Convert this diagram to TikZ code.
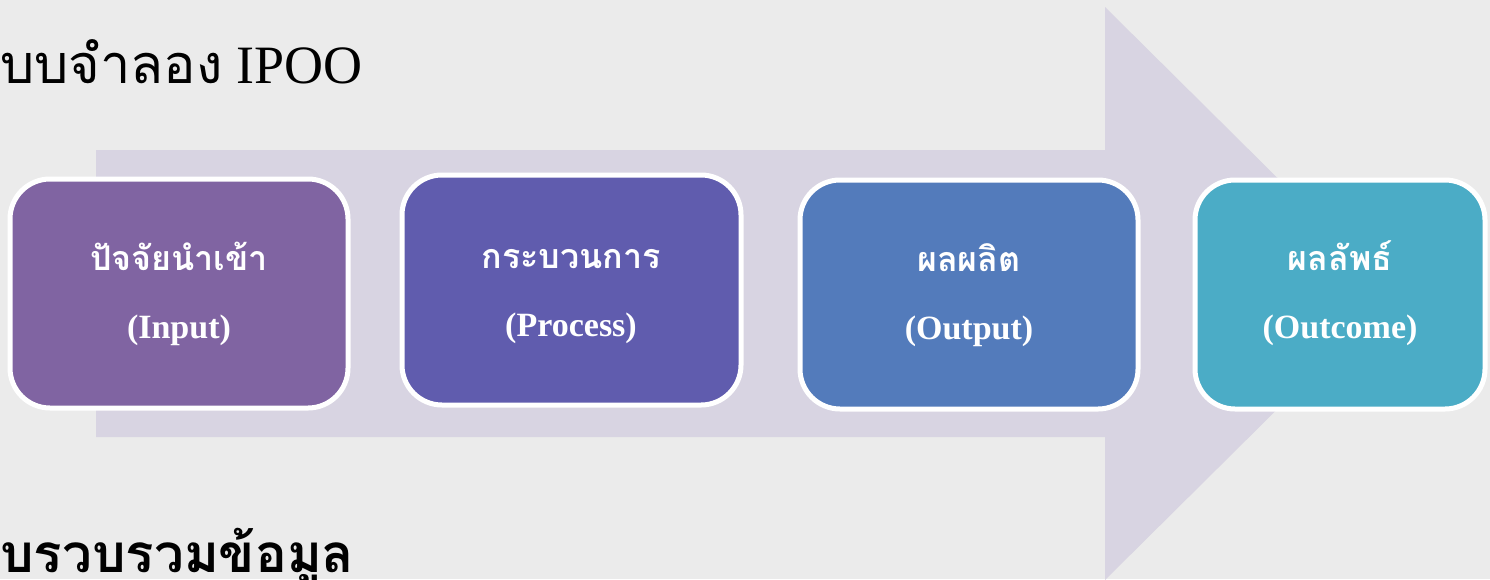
\documentclass[tikz,border=0pt]{standalone}
\usepackage{fontspec}
\setmainfont{Liberation Serif}
\newfontfamily\thaifont[Script=Thai]{Loma}
\definecolor{bgc}{HTML}{EBEBEB}
\definecolor{arrowc}{HTML}{D8D4E2}
\definecolor{c1}{HTML}{8064A2}
\definecolor{c2}{HTML}{605CAE}
\definecolor{c3}{HTML}{537BBB}
\definecolor{c4}{HTML}{4BACC6}
\tikzset{
  stagebox/.style={draw=white, line width=5pt, rounded corners=40pt},
  thlabel/.style={text=white, font=\thaifont\bfseries\fontsize{34}{40}\selectfont, anchor=base},
  enlabel/.style={text=white, font=\bfseries\fontsize{34}{40}\selectfont, anchor=base},
}
\begin{document}
\begin{tikzpicture}[x=1pt,y=-1pt]
\fill[bgc] (0,0) rectangle (1490,579);
\useasboundingbox (0,0) rectangle (1490,579);
% big arrow
\fill[arrowc] (96,150) -- (1105,150) -- (1105,7) -- (1394,293.5) -- (1105,580) -- (1105,437) -- (96,437) -- cycle;
% boxes
\filldraw[stagebox, fill=c1] (10,179) rectangle (348,408);
\filldraw[stagebox, fill=c2] (402,175) rectangle (741,405);
\filldraw[stagebox, fill=c3] (800,180) rectangle (1138,409);
\filldraw[stagebox, fill=c4] (1195,180) rectangle (1485,409);
% labels
\node[thlabel] (t1) at (179,270) {ปัจจัยนำเข้า};
\node[enlabel] (e1) at (179,338) {(Input)};
\node[thlabel] (t2) at (571,268) {กระบวนการ};
\node[enlabel] (e2) at (571,336) {(Process)};
\node[thlabel] (t3) at (969,271) {ผลผลิต};
\node[enlabel] (e3) at (969,339) {(Output)};
\node[thlabel] (t4) at (1340,270) {ผลลัพธ์};
\node[enlabel] (e4) at (1340,338) {(Outcome)};
% title and bottom text
\node[anchor=base west, inner sep=0pt] (title) at (0,83) {\fontsize{54}{60}\selectfont{\thaifont บบจำลอง} IPOO};
\node[anchor=base west, inner sep=0pt] (bottom) at (0,572) {\thaifont\bfseries\fontsize{53}{60}\selectfont บรวบรวมข้อมูล};
\end{tikzpicture}
\end{document}
